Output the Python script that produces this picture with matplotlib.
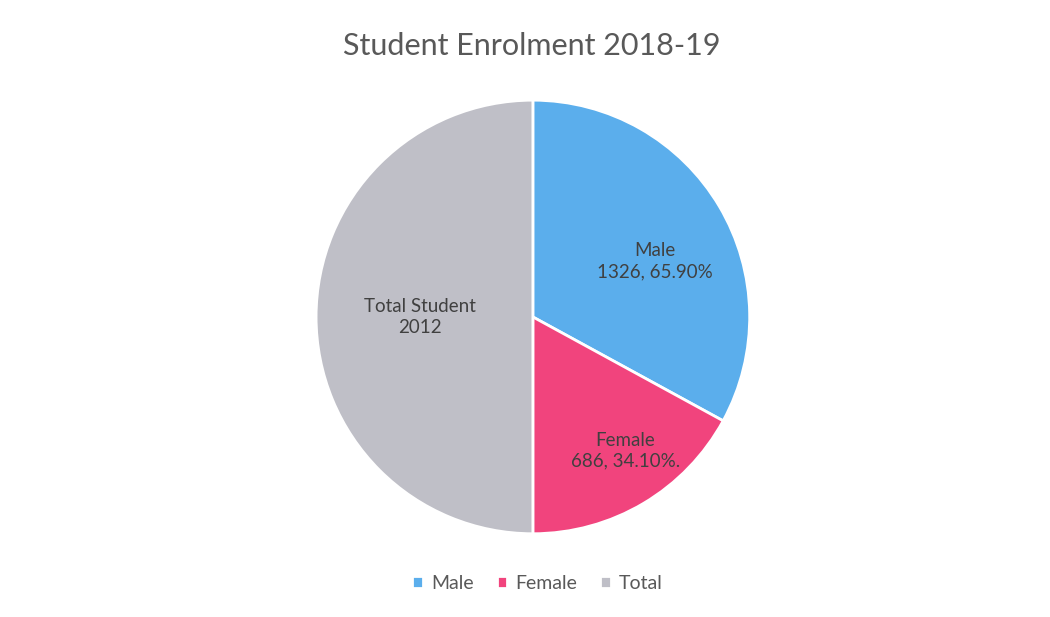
import matplotlib.pyplot as plt
import numpy as np

# data
categories = ['Male', 'Female', 'Total']
values = [1326, 686, 2012]
slice_labels = ['Male\n1326, 65.90%', 'Female\n686, 34.10%.', 'Total Student\n2012']
colors = ['#5BAEEC', '#F1447D', '#BFBFC7']

plt.rcParams['font.family'] = ['Lato', 'DejaVu Sans']

fig = plt.figure(figsize=(10.5, 6.17), dpi=100)
ax = fig.add_axes([0.3, 0.133, 0.415, 0.7066])

wedges, _ = ax.pie(values, colors=colors, startangle=90, counterclock=False,
                   wedgeprops={'edgecolor': 'white', 'linewidth': 2})
ax.set_aspect('equal')
ax.set_xlim(-1.005, 1.005)
ax.set_ylim(-1.005, 1.005)

# label placement inside each wedge (radius, angle nudge in deg)
label_r = [0.62, 0.75, 0.52]
label_nudge = [-6, 4, 0]
for w, lab, r, dn in zip(wedges, slice_labels, label_r, label_nudge):
    ang = np.deg2rad((w.theta1 + w.theta2) / 2 + dn)
    ax.text(r * np.cos(ang), r * np.sin(ang), lab, ha='center', va='center',
            fontsize=13.5, color='#404040', linespacing=1.3)

fig.text(0.506, 0.925, 'Student Enrolment 2018-19', ha='center', va='center',
         fontsize=22, color='#595959')

fig.legend(wedges, categories, loc='center', bbox_to_anchor=(0.512, 0.055), ncol=3,
           frameon=False, fontsize=14, handlelength=0.55, handleheight=0.55,
           handletextpad=0.4, columnspacing=1.2, labelcolor='#595959')

plt.savefig('out.png', dpi=100)
